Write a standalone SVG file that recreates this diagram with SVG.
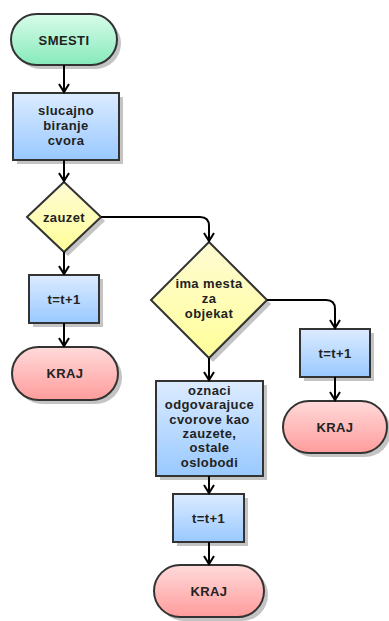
<svg xmlns="http://www.w3.org/2000/svg" width="389" height="621" viewBox="0 0 389 621">
<defs>
<linearGradient id="gGreen" x1="0" y1="0" x2="0" y2="1"><stop offset="0" stop-color="#d9fcea"/><stop offset="1" stop-color="#86eabb"/></linearGradient>
<linearGradient id="gBlue" x1="0" y1="0" x2="0" y2="1"><stop offset="0" stop-color="#dcebff"/><stop offset="1" stop-color="#99c9ff"/></linearGradient>
<linearGradient id="gYellow" x1="0" y1="0" x2="0" y2="1"><stop offset="0" stop-color="#fffbd4"/><stop offset="1" stop-color="#ffff99"/></linearGradient>
<linearGradient id="gRed" x1="0" y1="0" x2="0" y2="1"><stop offset="0" stop-color="#ffdada"/><stop offset="1" stop-color="#ff9c9c"/></linearGradient>
<marker id="arr" markerWidth="12" markerHeight="12" refX="10" refY="6" orient="auto" markerUnits="userSpaceOnUse">
<path d="M2,1 L10,6 L2,11" fill="none" stroke="#000" stroke-width="2"/>
</marker>
</defs>
<style>
.sh{fill:#c4c4c4;stroke:none}
.n{stroke:#333;stroke-width:2}
.t{font-family:"Liberation Sans",Arial,sans-serif;font-weight:bold;font-size:13px;letter-spacing:0.4px;fill:#222;text-anchor:middle}
.c{fill:none;stroke:#000;stroke-width:2;marker-end:url(#arr)}
</style>

<g id="smesti">
<rect class="sh" x="15" y="18" width="106" height="51" rx="25.5"/>
<rect class="n" x="11" y="14" width="106" height="51" rx="25.5" fill="url(#gGreen)"/>
<text class="t" x="64" y="44.5">SMESTI</text>
</g>

<g id="slucajno">
<rect class="sh" x="17" y="97" width="106" height="67"/>
<rect class="n" x="13" y="93" width="106" height="67" fill="url(#gBlue)"/>
<text class="t" x="66" y="114.5">slucajno</text>
<text class="t" x="66" y="130">biranje</text>
<text class="t" x="66" y="145">cvora</text>
</g>

<g id="zauzet">
<polygon class="sh" points="68,186 105,221 68,256 31,221"/>
<polygon class="n" points="64,182 101,217 64,252 27,217" fill="url(#gYellow)"/>
<text class="t" x="64" y="221.5">zauzet</text>
</g>

<g id="t1">
<rect class="sh" x="33" y="279" width="70" height="48"/>
<rect class="n" x="29" y="275" width="70" height="48" fill="url(#gBlue)"/>
<text class="t" x="64" y="303.5">t=t+1</text>
</g>

<g id="kraj1">
<rect class="sh" x="16" y="351" width="106" height="53" rx="26.5"/>
<rect class="n" x="12" y="347" width="106" height="53" rx="26.5" fill="url(#gRed)"/>
<text class="t" x="65" y="378">KRAJ</text>
</g>

<g id="imamesta">
<polygon class="sh" points="213,246 271,304 213,362 155,304"/>
<polygon class="n" points="209,242 267,300 209,358 151,300" fill="url(#gYellow)"/>
<text class="t" x="209" y="287.5">ima mesta</text>
<text class="t" x="209" y="303">za</text>
<text class="t" x="209" y="318">objekat</text>
</g>

<g id="t2">
<rect class="sh" x="304" y="333" width="70" height="48"/>
<rect class="n" x="300" y="329" width="70" height="48" fill="url(#gBlue)"/>
<text class="t" x="335" y="357.5">t=t+1</text>
</g>

<g id="kraj2">
<rect class="sh" x="287" y="405" width="104" height="52" rx="26"/>
<rect class="n" x="283" y="401" width="104" height="52" rx="26" fill="url(#gRed)"/>
<text class="t" x="335" y="431.5">KRAJ</text>
</g>

<g id="oznaci">
<rect class="sh" x="160" y="385" width="107" height="95"/>
<rect class="n" x="156" y="381" width="107" height="95" fill="url(#gBlue)"/>
<text class="t" x="209.5" y="394.5">oznaci</text>
<text class="t" x="209.5" y="409">odgovarajuce</text>
<text class="t" x="209.5" y="423.5">cvorove kao</text>
<text class="t" x="209.5" y="438">zauzete,</text>
<text class="t" x="209.5" y="452">ostale</text>
<text class="t" x="209.5" y="466.5">oslobodi</text>
</g>

<g id="t3">
<rect class="sh" x="177" y="498" width="71" height="48"/>
<rect class="n" x="173" y="494" width="71" height="48" fill="url(#gBlue)"/>
<text class="t" x="208.5" y="522.5">t=t+1</text>
</g>

<g id="kraj3">
<rect class="sh" x="158" y="569" width="110" height="52" rx="26"/>
<rect class="n" x="154" y="565" width="110" height="52" rx="26" fill="url(#gRed)"/>
<text class="t" x="209" y="595.5">KRAJ</text>
</g>

<g id="connectors">
<path class="c" d="M64,65 V92"/>
<path class="c" d="M64,160 V181"/>
<path class="c" d="M64,252 V274"/>
<path class="c" d="M64,323 V346"/>
<path class="c" d="M101,217 H200 Q209,217 209,226 V241"/>
<path class="c" d="M209,358 V380"/>
<path class="c" d="M267,300 H326 Q335,300 335,309 V328"/>
<path class="c" d="M335,377 V400"/>
<path class="c" d="M209,476 V493"/>
<path class="c" d="M209,542 V564"/>
</g>
</svg>
